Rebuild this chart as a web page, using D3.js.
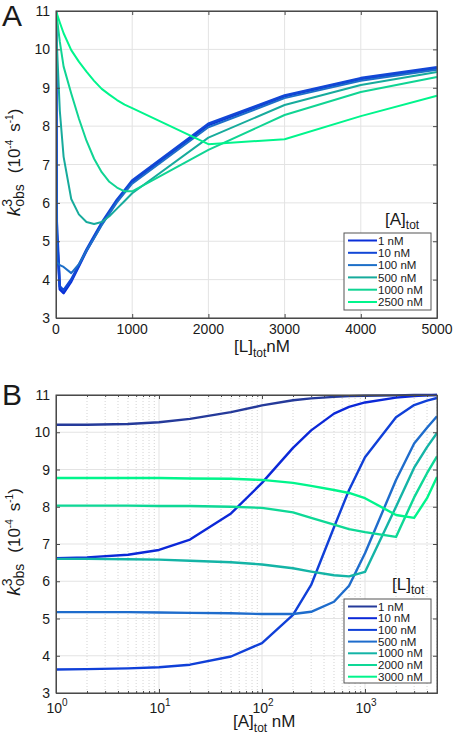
<!DOCTYPE html>
<html><head><meta charset="utf-8">
<script src="https://cdn.jsdelivr.net/npm/d3@7"></script>
<style>body{margin:0;background:#fff} svg{display:block}</style>
</head><body><svg id="c" width="456" height="737"></svg>
<script>
// ---------------- DATA ----------------
// Panel A: k_obs^3 vs [L]tot for several [A]tot
const LtotA = [0, 10, 50, 100, 200, 300, 400, 500, 600, 700, 800, 900, 1000, 2000, 3000, 4000, 5000];
const namesA = ["1 nM", "10 nM", "100 nM", "500 nM", "1000 nM", "2500 nM"];
const kA_1    = [11, 5.2, 3.75, 3.65, 3.95, 4.35, 4.75, 5.1, 5.45, 5.75, 6.05, 6.3, 6.55, 8.03, 8.78, 9.23, 9.51];
const kA_10   = [11, 5.5, 3.82, 3.72, 4.0, 4.38, 4.78, 5.13, 5.48, 5.78, 6.08, 6.33, 6.58, 8.06, 8.8, 9.25, 9.53];
const kA_100  = [11, 4.45, 4.38, 4.33, 4.17, 4.4, 4.75, 5.08, 5.42, 5.72, 6.01, 6.26, 6.5, 7.97, 8.73, 9.18, 9.47];
const kA_500  = [11, 10.2, 8.4, 7.2, 6.1, 5.7, 5.5, 5.45, 5.5, 5.65, 5.85, 6.05, 6.25, 7.7, 8.55, 9.07, 9.41];
const kA_1000 = [11, 10.85, 10.2, 9.55, 8.85, 8.2, 7.62, 7.15, 6.8, 6.55, 6.4, 6.3, 6.3, 7.38, 8.29, 8.89, 9.28];
const kA_2500 = [11, 10.94, 10.7, 10.42, 9.98, 9.68, 9.42, 9.18, 8.97, 8.82, 8.68, 8.56, 8.47, 7.53, 7.66, 8.26, 8.79];
const colorsA = ["#0a2fd8", "#1247d6", "#1d6fc8", "#17ab9c", "#10d493", "#00f58c"];
const widthsA = [2.6, 2.6, 2, 2, 2, 2];
const xTicksA = [0, 1000, 2000, 3000, 4000, 5000];
const yTicks = [3, 4, 5, 6, 7, 8, 9, 10, 11];

// Panel B: k_obs^3 vs [A]tot for several [L]tot
const AtotB = [1, 2, 5, 10, 20, 50, 100, 200, 300, 500, 700, 1000, 2000, 3000, 4000, 5000];
const namesB = ["1 nM", "10 nM", "100 nM", "500 nM", "1000 nM", "2000 nM", "3000 nM"];
const kB_1    = [10.2, 10.2, 10.22, 10.27, 10.36, 10.54, 10.72, 10.86, 10.91, 10.95, 10.97, 10.98, 10.99, 11, 11, 11];
const kB_10   = [6.62, 6.64, 6.71, 6.84, 7.12, 7.82, 8.64, 9.58, 10.05, 10.5, 10.68, 10.8, 10.93, 10.97, 10.99, 11];
const kB_100  = [3.63, 3.64, 3.66, 3.69, 3.76, 3.98, 4.34, 5.1, 5.9, 7.45, 8.45, 9.33, 10.4, 10.73, 10.85, 10.92];
const kB_500  = [5.17, 5.17, 5.17, 5.16, 5.15, 5.14, 5.12, 5.12, 5.18, 5.45, 5.88, 6.75, 8.72, 9.7, 10.12, 10.43];
const kB_1000 = [6.6, 6.6, 6.59, 6.58, 6.55, 6.51, 6.45, 6.35, 6.26, 6.16, 6.13, 6.25, 8.0, 9.05, 9.6, 9.98];
const kB_2000 = [8.03, 8.03, 8.03, 8.02, 8.02, 8.0, 7.97, 7.85, 7.7, 7.52, 7.4, 7.32, 7.19, 8.25, 8.9, 9.35];
const kB_3000 = [8.77, 8.77, 8.77, 8.77, 8.76, 8.75, 8.72, 8.64, 8.56, 8.45, 8.37, 8.23, 7.78, 7.7, 8.23, 8.8];
const colorsB = ["#253a9a", "#0b28d8", "#1040d8", "#1e6ccc", "#14b4a6", "#0ed896", "#00f58c"];
const xTicksB = [1, 10, 100, 1000];

// ---------------- DRAWING ----------------
const FONT = "'Liberation Sans', Arial, Helvetica, sans-serif";
const svg = d3.select("#c").attr("font-family", FONT);
const axisCol = "#4a4a4a";

function richText(g, x, y, parts, opts = {}) {
  const t = g.append("text").attr("x", x).attr("y", y)
    .attr("font-size", opts.size || 17).attr("fill", "#1a1a1a")
    .attr("text-anchor", opts.anchor || "start");
  if (opts.transform) t.attr("transform", opts.transform);
  parts.forEach(p => {
    const s = t.append("tspan").text(p.t);
    if (p.size) s.attr("font-size", p.size);
    if (p.dy) s.attr("dy", p.dy);
    if (p.dx) s.attr("dx", p.dx);
    if (p.it) s.attr("font-style", "italic");
  });
  return t;
}

function panel(cfg) {
  const g = svg.append("g");
  const { x, y } = cfg;
  const [x0, x1] = x.range(), [y0, y1] = y.range(); // y0 bottom, y1 top

  // grid
  const grid = g.append("g");
  cfg.xMinor && cfg.xMinor.forEach(v => grid.append("line")
    .attr("x1", x(v)).attr("x2", x(v)).attr("y1", y0).attr("y2", y1)
    .attr("stroke", "#c8c8c8").attr("stroke-width", 0.8).attr("stroke-dasharray", "1,2"));
  cfg.xTicks.forEach(v => grid.append("line")
    .attr("x1", x(v)).attr("x2", x(v)).attr("y1", y0).attr("y2", y1)
    .attr("stroke", "#e3e3e3").attr("stroke-width", 1));
  cfg.yTicks.forEach(v => grid.append("line")
    .attr("x1", x0).attr("x2", x1).attr("y1", y(v)).attr("y2", y(v))
    .attr("stroke", "#e3e3e3").attr("stroke-width", 1));

  // lines
  const clipId = "clip" + cfg.id;
  g.append("clipPath").attr("id", clipId).append("rect")
    .attr("x", x0).attr("y", y1 - 2).attr("width", x1 - x0 + 2).attr("height", y0 - y1 + 4);
  const line = d3.line().x(d => x(d[0])).y(d => y(d[1]));
  const lg = g.append("g").attr("clip-path", `url(#${clipId})`);
  cfg.series.forEach((s, i) => {
    lg.append("path").datum(cfg.xs.map((xv, j) => [xv, s[j]]))
      .attr("d", line).attr("fill", "none").attr("stroke", cfg.colors[i])
      .attr("stroke-width", cfg.widths[i]).attr("stroke-linejoin", "round");
  });

  // axes with inward ticks (MATLAB style, box on)
  const tl = 4;
  const mk = (axis) => axis.tickSizeInner(-tl).tickSizeOuter(0);
  g.append("g").attr("transform", `translate(0,${y0})`)
    .call(mk(d3.axisBottom(x).tickValues(cfg.xTicks)).tickFormat(""));
  g.append("g").attr("transform", `translate(0,${y1})`)
    .call(mk(d3.axisTop(x).tickValues(cfg.xTicks)).tickFormat(""));
  g.append("g").attr("transform", `translate(${x0},0)`)
    .call(mk(d3.axisLeft(y).tickValues(cfg.yTicks)).tickFormat(""));
  g.append("g").attr("transform", `translate(${x1},0)`)
    .call(mk(d3.axisRight(y).tickValues(cfg.yTicks)).tickFormat(""));
  if (cfg.xMinor) {
    g.append("g").attr("transform", `translate(0,${y0})`)
      .call(d3.axisBottom(x).tickValues(cfg.xMinor).tickSizeInner(-2).tickSizeOuter(0).tickFormat(""));
    g.append("g").attr("transform", `translate(0,${y1})`)
      .call(d3.axisTop(x).tickValues(cfg.xMinor).tickSizeInner(-2).tickSizeOuter(0).tickFormat(""));
  }
  g.selectAll(".domain").attr("stroke", axisCol).attr("stroke-width", 1);
  g.selectAll(".tick line").attr("stroke", axisCol);
  g.append("rect").attr("x", x0).attr("y", y1).attr("width", x1 - x0).attr("height", y0 - y1)
    .attr("fill", "none").attr("stroke", axisCol).attr("stroke-width", 1);

  // tick labels
  cfg.yTicks.forEach(v => g.append("text").attr("x", x0 - 6).attr("y", y(v)).attr("dy", "0.36em")
    .attr("text-anchor", "end").attr("font-size", 14).attr("fill", "#1a1a1a").text(v));
  cfg.xLabel(g);

  // y label
  const yc = (y0 + y1) / 2 - 2;
  richText(g, 0, 0, [
    { t: "k", it: true, size: 19 },
    { t: "3", size: 14, dy: -8 },
    { t: "obs", size: 14, dx: -7.8, dy: 12 },
    { t: "(10", dx: 11, dy: -4 },
    { t: "-4", size: 10, dy: -7 },
    { t: "s", dx: 8, dy: 7 },
    { t: "-1", size: 10, dy: -7 },
    { t: ")", dy: 7 }
  ], { size: 17, anchor: "middle", transform: `translate(20,${yc}) rotate(-90)` });

  // legend
  const L = cfg.legend;
  g.append("rect").attr("x", L.x).attr("y", L.y).attr("width", L.w).attr("height", L.h)
    .attr("fill", "#fff").attr("stroke", "#555").attr("stroke-width", 1);
  cfg.names.forEach((n, i) => {
    const yy = L.rowY0 + i * L.dy;
    g.append("line").attr("x1", L.x + 4).attr("x2", L.x + 33).attr("y1", yy).attr("y2", yy)
      .attr("stroke", cfg.colors[i]).attr("stroke-width", 2);
    g.append("text").attr("x", L.x + 34).attr("y", yy).attr("dy", "0.36em")
      .attr("font-size", L.fs).attr("fill", "#1a1a1a").text(n);
  });
  richText(g, L.tx, L.ty, [{ t: L.title }, { t: "tot", size: 12, dy: 4 }], { size: 17 });
}

// Panel A
const xA = d3.scaleLinear().domain([0, 5000]).range([56, 437]);
const yA = d3.scaleLinear().domain([3, 11]).range([318, 11]);
panel({
  id: "A", x: xA, y: yA, xs: LtotA,
  series: [kA_1, kA_10, kA_100, kA_500, kA_1000, kA_2500],
  colors: colorsA, widths: widthsA, names: namesA,
  xTicks: xTicksA, yTicks: yTicks,
  xLabel: g => {
    xTicksA.forEach(v => g.append("text").attr("x", xA(v)).attr("y", 334)
      .attr("text-anchor", "middle").attr("font-size", 14).attr("fill", "#1a1a1a").text(v));
    richText(g, 234, 352, [{ t: "[L]" }, { t: "tot", size: 12, dy: 5 }, { t: "nM", dy: -5 }], { size: 17 });
  },
  legend: { x: 344, y: 233, w: 87, h: 77, rowY0: 240.5, dy: 12.3, fs: 11.5, title: "[A]", tx: 385, ty: 225 }
});

// Panel B
const xB = d3.scaleLog().domain([1, 5000]).range([56, 437]);
const yB = d3.scaleLinear().domain([3, 11]).range([693, 395]);
const minorB = [];
[1, 10, 100, 1000].forEach(d => { for (let m = 2; m <= 9; m++) if (d * m <= 5000) minorB.push(d * m); });
panel({
  id: "B", x: xB, y: yB, xs: AtotB,
  series: [kB_1, kB_10, kB_100, kB_500, kB_1000, kB_2000, kB_3000],
  colors: colorsB, widths: [2.4, 2.4, 2.4, 2.4, 2.4, 2.4, 2.4], names: namesB,
  xTicks: xTicksB, yTicks: yTicks, xMinor: minorB,
  xLabel: g => {
    xTicksB.forEach(v => richText(g, xB(v) + 1, 713,
      [{ t: "10" }, { t: String(Math.round(Math.log10(v))), size: 10, dy: -7 }],
      { size: 14, anchor: "middle" }));
    richText(g, 233, 727, [{ t: "[A]" }, { t: "tot", size: 12, dy: 5 }, { t: " nM", dy: -5 }], { size: 17 });
  },
  legend: { x: 344, y: 599, w: 87, h: 84, rowY0: 606.5, dy: 11.7, fs: 11.5, title: "[L]", tx: 392, ty: 590 }
});

// panel letters
svg.append("text").attr("x", 2).attr("y", 26).attr("font-size", 30).attr("fill", "#1a1a1a").text("A");
svg.append("text").attr("x", 2).attr("y", 405).attr("font-size", 30).attr("fill", "#1a1a1a").text("B");
</script>
</body></html>
